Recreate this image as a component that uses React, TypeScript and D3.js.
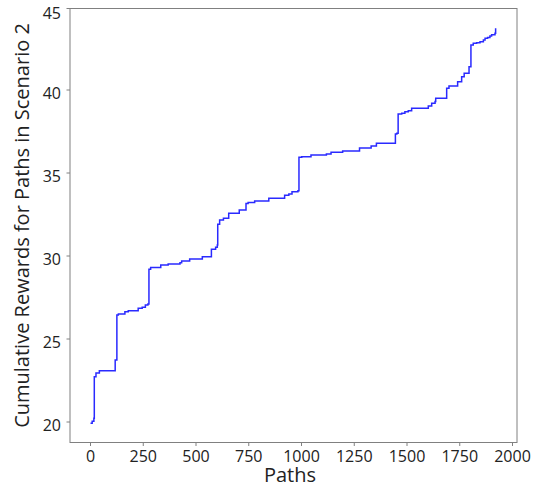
import React from "react";
import * as d3 from "d3";

const pathIdx = [0, 8, 16, 18, 26, 42, 117, 125, 132, 163, 179, 226, 245, 260, 272, 277, 285, 333, 368, 424, 432, 470, 530, 573, 593, 601, 603, 612, 630, 655, 705, 737, 747, 778, 845, 920, 940, 955, 983, 988, 1001, 1045, 1118, 1140, 1195, 1275, 1330, 1355, 1445, 1452, 1458, 1475, 1490, 1506, 1522, 1601, 1617, 1633, 1636, 1688, 1699, 1740, 1759, 1771, 1794, 1803, 1814, 1830, 1846, 1862, 1870, 1882, 1893, 1901, 1917, 1920];
const rewards = [19.92, 20.05, 20.22, 22.73, 22.95, 23.09, 23.73, 26.45, 26.51, 26.64, 26.70, 26.85, 26.91, 27.05, 27.11, 29.20, 29.30, 29.46, 29.52, 29.60, 29.70, 29.82, 29.96, 30.40, 30.52, 30.66, 31.91, 32.17, 32.27, 32.57, 32.77, 33.17, 33.23, 33.31, 33.48, 33.66, 33.73, 33.87, 33.93, 35.95, 35.98, 36.08, 36.14, 36.25, 36.33, 36.51, 36.63, 36.79, 37.35, 37.39, 38.55, 38.60, 38.69, 38.75, 38.90, 39.04, 39.20, 39.30, 39.50, 40.10, 40.24, 40.50, 40.80, 41.01, 41.40, 42.71, 42.81, 42.85, 42.91, 43.01, 43.11, 43.17, 43.25, 43.33, 43.42, 43.72];
const xTicks = [0, 250, 500, 750, 1000, 1250, 1500, 1750, 2000];
const yTicks = [20, 25, 30, 35, 40, 45];

const W = 546, H = 489;
const L = 70, R = 517, T = 8.5, B = 442.5;
const FONT = "'Open Sans', 'Noto Sans', sans-serif";

export default function App() {
  const x = d3.scaleLinear().domain([0, 2000]).range([90.5, 512.5]);
  const y = d3.scaleLinear().domain([20, 45]).range([422, 7]);
  const data = pathIdx.map((p, i) => [p, rewards[i]] as [number, number]);
  const line = d3.line<[number, number]>()
    .x(d => x(d[0]))
    .y(d => y(d[1]))
    .curve(d3.curveStepAfter);
  return (
    <svg width={W} height={H} style={{ position: "absolute", left: 0, top: 0, background: "#fff" }}>
      <rect x={0} y={0} width={W} height={H} fill="#fff" />
      <path d={line(data) || ""} fill="none" stroke="#2a2aff" strokeWidth={1.5} />
      <rect x={L} y={T} width={R - L} height={B - T} fill="none" stroke="#808080" strokeWidth={1} />
      {xTicks.map(t => (
        <g key={"x" + t}>
          <line x1={x(t)} x2={x(t)} y1={B} y2={B + 3.5} stroke="#808080" />
          <text x={x(t)} y={B + 19} textAnchor="middle" fontFamily={FONT} fontSize={16} fill="#222">{t}</text>
        </g>
      ))}
      {yTicks.map(t => (
        <g key={"y" + t}>
          <line x1={L - 3.5} x2={L} y1={Math.max(y(t), T)} y2={Math.max(y(t), T)} stroke="#808080" />
          <text x={L - 9} y={Math.max(y(t), 9.5) + 9} textAnchor="end" fontFamily={FONT} fontSize={16} fill="#222">{t}</text>
        </g>
      ))}
      <text x={290} y={482} textAnchor="middle" fontFamily={FONT} fontSize={20} fill="#222">Paths</text>
      <text transform={`translate(29, ${(T + B) / 2}) rotate(-90)`} textAnchor="middle" fontFamily={FONT} fontSize={20} fill="#222">Cumulative Rewards for Paths in Scenario 2</text>
    </svg>
  );
}
